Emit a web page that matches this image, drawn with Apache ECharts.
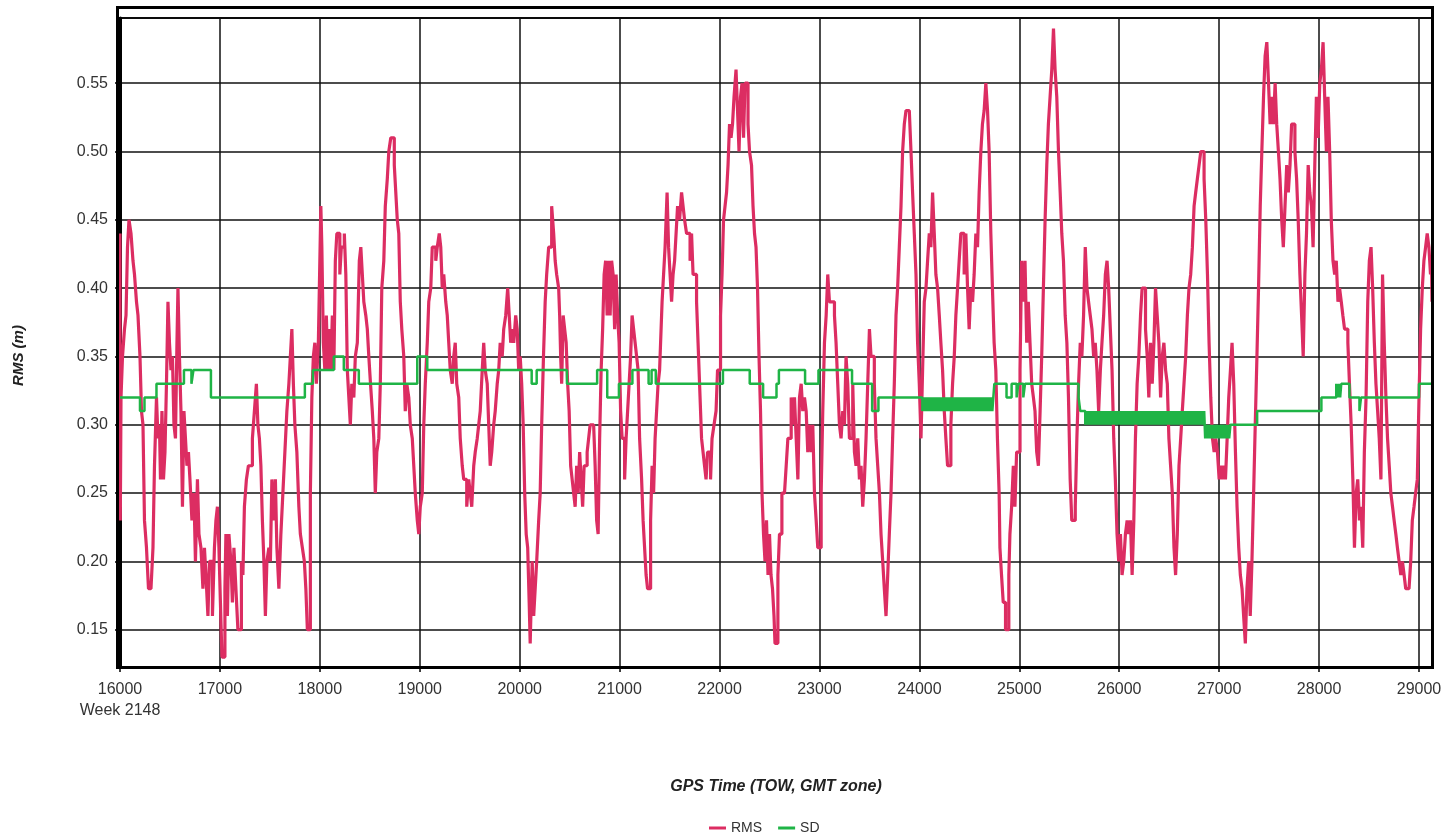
<!DOCTYPE html>
<html>
<head>
<meta charset="utf-8">
<script src="https://cdn.jsdelivr.net/npm/echarts@6/dist/echarts.min.js"></script>
<style>
html,body{margin:0;padding:0;background:#fff;}
#chart{width:1456px;height:837px;}
</style>
</head>
<body>
<div id="chart"></div>
<script>
// ---- Data ----
const xTickLabels = ['16000\nWeek 2148','17000','18000','19000','20000','21000','22000','23000','24000','25000','26000','27000','28000','29000'];
const seriesNames = ['RMS', 'SD'];

// RMS (m) : GPS time of week (s) and value
const rmsTime1 = [16000,16003,16010,16025,16045,16060,16075,16090,16110,16130,
16145,16165,16180,16200,16215,16230,16245,16265,16285,16310,
16330,16345,16365,16380,16395,16405,16420,16435,16450,16465,
16480,16495,16510,16525,16540,16555,16570,16580,16595,16610,
16625,16640,16655,16670,16685,16700,16720,16740,16755,16775,
16790,16810,16830,16845,16860,16880,16895,16910,16925,16945,
16960,16975,16990,17005,17020,17035,17050,17060,17075,17090,
17110,17125,17140,17160,17180,17200,17215,17230,17245,17265,
17285,17305,17325,17345,17365,17380,17395,17410,17425,17440,
17455,17470,17490,17505,17520,17535,17555,17570,17590,17610,
17630,17650,17670,17690,17705,17720,17735,17750,17770,17790,
17805,17825,17845,17860,17875,17890,17905,17920,17935,17950,
17965,17985,17995,18010,18020,18035,18050,18065,18080,18095,
18110,18125,18140,18155,18170,18185,18200,18215];
const rmsValue1 = [0.44,0.23,0.32,0.35,0.37,0.38,0.43,0.45,0.44,0.42,
0.41,0.39,0.38,0.35,0.31,0.30,0.23,0.21,0.18,0.18,
0.21,0.27,0.32,0.29,0.30,0.26,0.31,0.26,0.28,0.33,
0.39,0.36,0.34,0.35,0.30,0.29,0.36,0.40,0.35,0.31,
0.24,0.31,0.29,0.27,0.28,0.26,0.23,0.25,0.20,0.26,
0.22,0.21,0.18,0.21,0.19,0.16,0.20,0.20,0.16,0.21,
0.23,0.24,0.21,0.17,0.13,0.13,0.18,0.22,0.16,0.22,
0.20,0.17,0.21,0.18,0.15,0.15,0.20,0.19,0.24,0.26,
0.27,0.27,0.29,0.31,0.33,0.30,0.29,0.27,0.23,0.20,
0.16,0.20,0.21,0.20,0.26,0.23,0.26,0.21,0.18,0.22,
0.25,0.28,0.31,0.33,0.35,0.37,0.33,0.30,0.28,0.24,
0.22,0.21,0.20,0.18,0.15,0.15,0.25,0.32,0.35,0.36,
0.33,0.36,0.40,0.46,0.43,0.36,0.34,0.38,0.34,0.37,
0.34,0.38,0.34,0.42,0.44,0.44,0.41,0.43];

const rmsTime2 = [18230,18245,18260,18275,18290,18305,18320,18340,18355,18375,
18395,18410,18425,18440,18460,18475,18490,18507,18525,18540,
18555,18570,18590,18605,18620,18640,18655,18675,18690,18710,
18730,18745,18760,18775,18790,18805,18820,18840,18855,18870,
18890,18905,18925,18940,18955,18975,18990,19005,19025,19040,
19055,19075,19090,19110,19125,19140,19160,19175,19195,19210,
19225,19240,19260,19275,19290,19305,19325,19340,19355,19370,
19390,19405,19425,19440,19455,19470,19490,19505,19520,19540,
19555,19575,19590,19605,19625,19640,19655,19675,19690,19705,
19720,19740,19755,19775,19790,19805,19825,19840,19860,19880,
19895,19910,19925,19940,19960,19975,19990,20005,20020,20035,
20050,20065,20080,20095,20105,20115,20125,20140,20155,20170,
20190,20205,20220,20238,20255,20270,20290,20305,20320,20340,
20355,20370,20390];
const rmsValue2 = [0.43,0.44,0.41,0.34,0.32,0.30,0.33,0.32,0.35,0.36,
0.42,0.43,0.41,0.39,0.38,0.37,0.35,0.33,0.31,0.29,
0.25,0.28,0.29,0.33,0.40,0.42,0.46,0.48,0.50,0.51,
0.51,0.49,0.47,0.45,0.44,0.39,0.37,0.35,0.31,0.33,
0.32,0.30,0.29,0.27,0.25,0.23,0.22,0.24,0.25,0.30,
0.33,0.36,0.39,0.40,0.43,0.43,0.42,0.43,0.44,0.43,
0.40,0.41,0.39,0.38,0.36,0.34,0.33,0.35,0.36,0.33,
0.32,0.29,0.27,0.26,0.26,0.24,0.26,0.25,0.24,0.27,
0.28,0.29,0.30,0.31,0.34,0.36,0.34,0.33,0.30,0.27,
0.28,0.30,0.31,0.33,0.34,0.36,0.35,0.37,0.38,0.40,
0.38,0.36,0.37,0.36,0.38,0.37,0.34,0.35,0.33,0.30,
0.25,0.22,0.21,0.17,0.14,0.17,0.20,0.16,0.18,0.20,
0.23,0.25,0.30,0.35,0.39,0.41,0.43,0.43,0.46,0.44,
0.42,0.41,0.40];

const rmsTime3 = [20400,20410,20420,20435,20450,20465,20480,20495,20510,20525,
20540,20555,20570,20585,20600,20615,20630,20645,20660,20675,
20690,20705,20720,20740,20755,20770,20785,20800,20815,20830,
20845,20860,20875,20890,20905,20920,20935,20950,20965,20980,
20995,21010,21025,21050,21065,21080,21095,21110,21125,21140,
21155,21170,21185,21200,21220,21235,21250,21265,21280,21295,
21310,21325,21340,21355,21370,21385,21400,21410,21425,21440,
21455,21475,21490,21505,21520,21535,21550,21565,21580,21600,
21620,21635,21650,21670,21690,21705,21720,21735,21755,21770,
21785,21800,21820,21835,21850,21865,21880,21895,21910,21925,
21945,21965,21980,21995,22010,22025,22040,22055,22070,22085,
22100,22115,22130,22145,22165,22180,22195,22210,22225,22240,
22255,22270,22285,22300,22320,22335,22350,22365,22380,22395,
22410,22425,22440,22455,22470,22485,22500,22515,22530,22545,
22555];
const rmsValue3 = [0.38,0.35,0.33,0.38,0.37,0.36,0.33,0.31,0.27,0.26,
0.25,0.24,0.27,0.25,0.28,0.26,0.24,0.27,0.27,0.28,
0.29,0.30,0.30,0.30,0.27,0.23,0.22,0.29,0.34,0.37,
0.41,0.42,0.38,0.42,0.38,0.42,0.41,0.37,0.41,0.38,
0.36,0.31,0.29,0.26,0.29,0.31,0.33,0.35,0.38,0.37,
0.36,0.35,0.34,0.29,0.26,0.23,0.21,0.19,0.18,0.18,
0.23,0.27,0.25,0.29,0.31,0.33,0.34,0.36,0.39,0.41,
0.43,0.47,0.43,0.41,0.39,0.41,0.42,0.44,0.46,0.45,
0.47,0.46,0.45,0.44,0.44,0.42,0.44,0.41,0.41,0.39,
0.36,0.33,0.29,0.28,0.27,0.26,0.28,0.28,0.26,0.29,
0.30,0.31,0.34,0.34,0.38,0.41,0.45,0.46,0.47,0.49,
0.52,0.51,0.52,0.54,0.56,0.53,0.50,0.54,0.55,0.51,
0.55,0.55,0.52,0.50,0.49,0.46,0.44,0.43,0.40,0.35,
0.31,0.25,0.22,0.20,0.23,0.19,0.22,0.19,0.18,0.16,
0.14];

const rmsTime4 = [22584,22600,22624,22650,22667,22684,22717,22734,22750,22767,
22784,22800,22817,22833,22850,22867,22883,22900,22917,22933,
22950,22967,22983,23000,23017,23033,23050,23067,23083,23100,
23117,23150,23166,23183,23200,23216,23233,23250,23266,23283,
23300,23316,23333,23350,23366,23383,23400,23416,23433,23450,
23466,23483,23500,23516,23533,23549,23566,23583,23600,23616,
23633,23649,23666,23683,23699,23716,23732,23749,23766,23782,
23799,23816,23832,23849,23866,23899,23916,23932,23949,23966,
23982,23999,24016,24032,24049,24066,24082,24099,24115,24132,
24149,24165,24182,24199,24215,24232,24249,24265,24282,24299,
24315,24332,24349,24365,24382,24398,24415,24432,24448,24465,
24482,24498,24515,24532,24548,24565,24582,24598,24615,24631,
24648,24665,24682,24698,24715,24731,24748,24765,24781,24798];
const rmsValue4 = [0.19,0.22,0.25,0.25,0.27,0.29,0.32,0.30,0.32,0.29,
0.26,0.32,0.33,0.31,0.32,0.31,0.28,0.30,0.28,0.30,
0.25,0.23,0.21,0.21,0.25,0.31,0.36,0.38,0.41,0.39,
0.39,0.38,0.36,0.33,0.30,0.29,0.31,0.30,0.35,0.33,
0.29,0.29,0.33,0.28,0.27,0.29,0.26,0.27,0.24,0.26,
0.29,0.33,0.37,0.35,0.35,0.33,0.29,0.27,0.25,0.22,
0.20,0.18,0.16,0.19,0.22,0.25,0.29,0.33,0.38,0.40,
0.43,0.46,0.50,0.52,0.53,0.53,0.50,0.47,0.44,0.41,
0.36,0.33,0.29,0.34,0.39,0.40,0.42,0.44,0.43,0.47,
0.44,0.41,0.40,0.38,0.36,0.34,0.31,0.29,0.27,0.27,
0.30,0.33,0.35,0.38,0.40,0.42,0.44,0.44,0.41,0.44,
0.40,0.37,0.40,0.39,0.41,0.44,0.43,0.47,0.50,0.52,
0.53,0.55,0.53,0.50,0.44,0.40,0.36,0.34,0.29,0.25];

const rmsTime5 = [24806,24822,24839,24862,24880,24895,24906,24923,24940,24956,
24973,24990,25007,25023,25040,25057,25074,25090,25107,25124,
25141,25157,25174,25191,25208,25224,25241,25258,25275,25291,
25308,25325,25342,25358,25375,25392,25409,25425,25442,25459,
25476,25492,25509,25525,25545,25560,25576,25593,25610,25626,
25643,25660,25677,25693,25710,25727,25744,25760,25777,25794,
25811,25827,25844,25861,25878,25894,25911,25928,25945,25961,
25978,25995,26012,26028,26045,26062,26079,26095,26112,26129,
26146,26162,26179,26196,26213,26229,26246,26263,26280,26296,
26313,26330,26347,26363,26380,26397,26414,26430,26447,26464,
26481,26497,26514,26531,26548,26564,26581,26598,26615,26631,
26648,26665,26682,26698,26715,26732,26749,26765,26782,26799,
26816,26832,26849,26866,26883,26899,26916,26933,26950,26966,
26983,27000,27017];
const rmsValue5 = [0.21,0.19,0.17,0.15,0.15,0.19,0.22,0.24,0.27,0.24,
0.28,0.28,0.34,0.42,0.39,0.42,0.36,0.39,0.36,0.33,
0.32,0.31,0.28,0.27,0.31,0.35,0.40,0.45,0.49,0.52,
0.54,0.56,0.59,0.56,0.54,0.50,0.47,0.44,0.42,0.38,
0.36,0.32,0.26,0.23,0.23,0.24,0.29,0.33,0.36,0.35,
0.38,0.43,0.40,0.39,0.38,0.37,0.35,0.36,0.34,0.31,
0.34,0.36,0.38,0.41,0.42,0.40,0.37,0.34,0.29,0.26,
0.22,0.20,0.22,0.19,0.20,0.22,0.23,0.22,0.23,0.19,
0.23,0.29,0.33,0.35,0.38,0.40,0.40,0.37,0.35,0.32,
0.36,0.33,0.36,0.40,0.38,0.36,0.32,0.35,0.36,0.34,
0.33,0.29,0.27,0.25,0.21,0.19,0.22,0.27,0.29,0.31,
0.33,0.35,0.38,0.40,0.41,0.43,0.46,0.47,0.48,0.49,
0.50,0.50,0.48,0.45,0.41,0.36,0.32,0.29,0.28,0.29,
0.28,0.26,0.27];

const rmsTime6 = [27030,27047,27063,27080,27096,27113,27129,27146,27163,27179,
27196,27212,27229,27245,27262,27278,27295,27311,27328,27345,
27361,27378,27394,27411,27427,27444,27460,27477,27494,27510,
27527,27543,27560,27576,27593,27609,27626,27642,27659,27676,
27692,27709,27725,27742,27758,27775,27791,27808,27825,27841,
27858,27874,27891,27907,27924,27940,27957,27973,27990,28007,
28023,28040,28056,28073,28089,28106,28122,28139,28156,28172,
28189,28205,28222,28238,28255,28271,28288,28304,28321,28338,
28354,28371,28387,28404,28420,28437,28453,28470,28487,28503,
28520,28536,28553,28569,28586,28602,28619,28635,28652,28669,
28685,28702,28718,28735,28751,28768,28784,28801,28818,28834,
28851,28867,28900,28917,28933,28950,28966,28983,29000,29016,
29033,29049,29066,29082,29099,29115,29125,29130];
const rmsValue6 = [0.26,0.27,0.26,0.29,0.32,0.34,0.36,0.33,0.28,0.24,
0.21,0.19,0.18,0.16,0.14,0.18,0.20,0.16,0.20,0.25,
0.30,0.35,0.40,0.46,0.50,0.54,0.57,0.58,0.55,0.52,
0.54,0.52,0.55,0.52,0.50,0.48,0.45,0.43,0.46,0.49,
0.47,0.49,0.52,0.52,0.50,0.48,0.45,0.41,0.38,0.35,
0.41,0.44,0.49,0.47,0.46,0.43,0.49,0.54,0.51,0.55,
0.56,0.58,0.54,0.50,0.54,0.50,0.45,0.42,0.41,0.42,
0.39,0.40,0.39,0.38,0.37,0.37,0.36,0.33,0.30,0.26,
0.21,0.25,0.26,0.23,0.24,0.21,0.28,0.32,0.39,0.42,
0.43,0.40,0.36,0.33,0.31,0.29,0.26,0.41,0.36,0.32,
0.29,0.27,0.25,0.24,0.23,0.22,0.21,0.20,0.19,0.20,
0.19,0.18,0.18,0.20,0.23,0.24,0.25,0.26,0.32,0.37,
0.40,0.42,0.43,0.44,0.43,0.41,0.42,0.39];

// SD (m) : time at which each new level starts, and the level
const sdTime = [16000,16200,16245,16365,16640,16715,16735,16910,17850,17930,
18140,18240,18390,18975,19075,20120,20170,20473,20775,20876,
20993,21128,21290,21320,21362,22034,22302,22436,22570,22594,
22856,22990,23326,23527,23590,
24030,24040,24050,24060,24070,24080,24090,24100,24110,24120,
24130,24140,24150,24160,24170,24180,24190,24200,24210,24220,
24230,24240,24250,24260,24270,24280,24290,24300,24310,24320,
24330,24340,24350,24360,24370,24380,24390,24400,24410,24420,
24430,24440,24450,24460,24470,24480,24490,24500,24510,24520,
24530,24540,24550,24560,24570,24580,24590,24600,24610,24620,
24630,24640,24650,24660,24670,24680,24690,24700,24710,24720,
24730,24740,
24750,24872,24923,24973,24990,25040,25057,25593,25610,
25660,25670,25680,25690,25700,25710,25720,25730,25740,25750,
25760,25770,25780,25790,25800,25810,25820,25830,25840,25850,
25860,25870,25880,25890,25900,25910,25920,25930,25940,25950,
25960,25970,25980,25990,26000,26010,26020,26030,26040,26050,
26060,26070,26080,26090,26100,26110,26120,26130,26140,26150,
26160,26170,26180,26190,26200,26210,26220,26230,26240,26250,
26260,26270,26280,26290,26300,26310,26320,26330,26340,26350,
26360,26370,26380,26390,26400,26410,26420,26430,26440,26450,
26460,26470,26480,26490,26500,26510,26520,26530,26540,26550,
26560,26570,26580,26590,26600,26610,26620,26630,26640,26650,
26660,26670,26680,26690,26700,26710,26720,26730,26740,26750,
26760,26770,26780,26790,26800,26810,26820,26830,26840,26850,
26860,26870,26880,26890,26900,26910,26920,26930,26940,26950,
26960,26970,26980,26990,27000,27010,27020,27030,27040,27050,
27060,27070,27080,27090,27100,
27113,27380,28023,28172,28185,28198,28211,28222,28304,28404,
28420,29000,29130];
const sdValue = [0.32,0.31,0.32,0.33,0.34,0.33,0.34,0.32,0.33,0.34,
0.35,0.34,0.33,0.35,0.34,0.33,0.34,0.33,0.34,0.32,
0.33,0.34,0.33,0.34,0.33,0.34,0.33,0.32,0.33,0.34,
0.33,0.34,0.33,0.31,0.32,
0.31,0.32,0.31,0.32,0.31,0.32,0.31,0.32,0.31,0.32,
0.31,0.32,0.31,0.32,0.31,0.32,0.31,0.32,0.31,0.32,
0.31,0.32,0.31,0.32,0.31,0.32,0.31,0.32,0.31,0.32,
0.31,0.32,0.31,0.32,0.31,0.32,0.31,0.32,0.31,0.32,
0.31,0.32,0.31,0.32,0.31,0.32,0.31,0.32,0.31,0.32,
0.31,0.32,0.31,0.32,0.31,0.32,0.31,0.32,0.31,0.32,
0.31,0.32,0.31,0.32,0.31,0.32,0.31,0.32,0.31,0.32,
0.31,0.32,
0.33,0.32,0.33,0.32,0.33,0.32,0.33,0.32,0.31,
0.30,0.31,0.30,0.31,0.30,0.31,0.30,0.31,0.30,0.31,
0.30,0.31,0.30,0.31,0.30,0.31,0.30,0.31,0.30,0.31,
0.30,0.31,0.30,0.31,0.30,0.31,0.30,0.31,0.30,0.31,
0.30,0.31,0.30,0.31,0.30,0.31,0.30,0.31,0.30,0.31,
0.30,0.31,0.30,0.31,0.30,0.31,0.30,0.31,0.30,0.31,
0.30,0.31,0.30,0.31,0.30,0.31,0.30,0.31,0.30,0.31,
0.30,0.31,0.30,0.31,0.30,0.31,0.30,0.31,0.30,0.31,
0.30,0.31,0.30,0.31,0.30,0.31,0.30,0.31,0.30,0.31,
0.30,0.31,0.30,0.31,0.30,0.31,0.30,0.31,0.30,0.31,
0.30,0.31,0.30,0.31,0.30,0.31,0.30,0.31,0.30,0.31,
0.30,0.31,0.30,0.31,0.30,0.31,0.30,0.31,0.30,0.31,
0.30,0.31,0.30,0.31,0.30,0.31,0.30,0.31,0.30,0.31,
0.29,0.30,0.29,0.30,0.29,0.30,0.29,0.30,0.29,0.30,
0.29,0.30,0.29,0.30,0.29,0.30,0.29,0.30,0.29,0.30,
0.29,0.30,0.29,0.30,0.29,
0.30,0.31,0.32,0.33,0.32,0.33,0.32,0.33,0.32,0.31,
0.32,0.33,0.33];

// ---- Build series data ----
const rmsTime = [].concat(rmsTime1, rmsTime2, rmsTime3, rmsTime4, rmsTime5, rmsTime6);
const rmsValue = [].concat(rmsValue1, rmsValue2, rmsValue3, rmsValue4, rmsValue5, rmsValue6);
const rmsData = rmsTime.map((t, i) => [t, rmsValue[i]]);
const sdData = sdTime.map((t, i) => [t, sdValue[i]]);

const FONT = '"Liberation Sans", Arial, Helvetica, sans-serif';
const chart = echarts.init(document.getElementById('chart'), null, {renderer: 'canvas'});
chart.setOption({
  animation: false,
  backgroundColor: '#ffffff',
  grid: {left: 120, right: 24, top: 18, bottom: 170, show: true, borderColor: '#000', borderWidth: 2},
  legend: {
    data: seriesNames,
    left: 704, top: 816,
    icon: 'rect',
    itemWidth: 17, itemHeight: 3, itemGap: 16,
    textStyle: {fontFamily: FONT, fontSize: 14, color: '#333'}
  },
  xAxis: {
    type: 'value',
    min: 16000, max: 29130, interval: 1000,
    name: 'GPS Time (TOW, GMT zone)',
    nameLocation: 'middle', nameGap: 112,
    nameTextStyle: {fontFamily: FONT, fontSize: 16, fontWeight: 'bold', fontStyle: 'italic', color: '#222'},
    axisLine: {show: true, onZero: false, lineStyle: {color: '#000', width: 3}},
    axisTick: {show: true, length: 5, lineStyle: {color: '#000', width: 1.5}},
    axisLabel: {
      margin: 12, fontFamily: FONT, fontSize: 16, color: '#333', lineHeight: 21,
      showMaxLabel: false,
      formatter: function (v) {
        const k = Math.round((v - 16000) / 1000);
        if (Math.abs(v - 16000 - k * 1000) > 1e-6) return '';
        return xTickLabels[k] !== undefined ? xTickLabels[k] : '';
      }
    },
    splitLine: {show: true, lineStyle: {color: '#111', width: 1.5}}
  },
  yAxis: {
    type: 'value',
    min: 0.1227, max: 0.5977,
    splitNumber: 9, minInterval: 0.05, maxInterval: 0.05,
    name: 'RMS (m)',
    nameLocation: 'middle', nameGap: 94, nameRotate: 90,
    nameTextStyle: {fontFamily: FONT, fontSize: 15, fontWeight: 'bold', fontStyle: 'italic', color: '#222', padding: [0, 26, 0, 0]},
    axisLine: {show: true, lineStyle: {color: '#000', width: 3}},
    axisTick: {show: true, length: 5, lineStyle: {color: '#000', width: 1.5}},
    axisLabel: {
      margin: 12, fontFamily: FONT, fontSize: 16, color: '#333',
      showMinLabel: false, showMaxLabel: false,
      formatter: function (v) {
        const k = Math.round(v * 20);
        if (Math.abs(v * 20 - k) > 1e-6) return '';
        return (k / 20).toFixed(2);
      }
    },
    splitLine: {show: true, lineStyle: {color: '#111', width: 1.5}}
  },
  graphic: [{
    type: 'rect', silent: true, z: 100,
    shape: {x: 117.5, y: 7.5, width: 1315, height: 660},
    style: {fill: 'none', stroke: '#000', lineWidth: 3}
  }],
  series: [
    {
      name: 'RMS', type: 'line', step: 'end', showSymbol: false, symbol: 'none',
      data: rmsData, color: '#dc2d62',
      lineStyle: {color: '#dc2d62', width: 3.2}, z: 3
    },
    {
      name: 'SD', type: 'line', step: 'end', showSymbol: false, symbol: 'none',
      data: sdData, color: '#1fb446',
      lineStyle: {color: '#1fb446', width: 2.5}, z: 4
    }
  ]
});
</script>
</body>
</html>
